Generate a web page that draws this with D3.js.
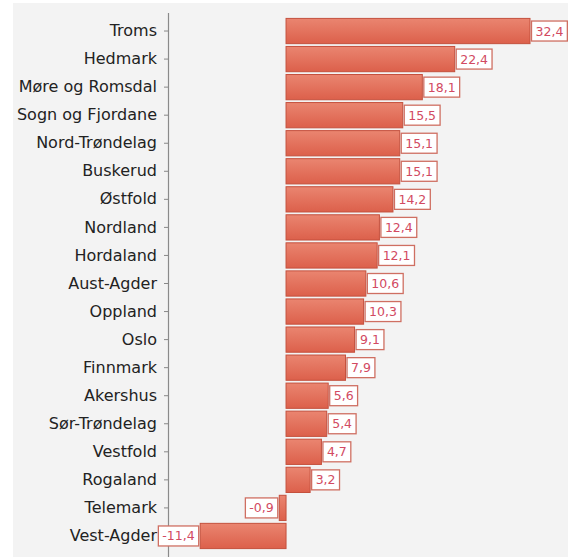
<!DOCTYPE html>
<html><head><meta charset="utf-8">
<script src="https://cdn.jsdelivr.net/npm/d3@7"></script>
<style>body{margin:0;background:#fff;}svg{display:block;}</style>
</head><body>
<script>
const categories = ["Troms","Hedmark","Møre og Romsdal","Sogn og Fjordane","Nord-Trøndelag","Buskerud","Østfold","Nordland","Hordaland","Aust-Agder","Oppland","Oslo","Finnmark","Akershus","Sør-Trøndelag","Vestfold","Rogaland","Telemark","Vest-Agder"];
const values = [32.4,22.4,18.1,15.5,15.1,15.1,14.2,12.4,12.1,10.6,10.3,9.1,7.9,5.6,5.4,4.7,3.2,-0.9,-11.4];

const W = 568, H = 557;
const svg = d3.select("body").append("svg").attr("width", W).attr("height", H);

const defs = svg.append("defs");
const grad = defs.append("linearGradient").attr("id","barGrad").attr("x1",0).attr("y1",0).attr("x2",0).attr("y2",1);
grad.append("stop").attr("offset","0%").attr("stop-color","#ea8570");
grad.append("stop").attr("offset","100%").attr("stop-color","#dc604b");

svg.append("rect").attr("x",13).attr("y",3).attr("width",W-13).attr("height",H-3).attr("fill","#f3f3f3");

const x = d3.scaleLinear().domain([-11.4, 32.4]).range([200.2, 530]);
const y = d3.scaleBand().domain(categories).range([17, 550]).paddingInner(0.1).paddingOuter(0.05);

// axis
const axisX = 168;
const yAxis = d3.axisLeft(y).tickSize(4).tickPadding(7);
const ag = svg.append("g").attr("transform", `translate(${axisX},0)`).call(yAxis);
ag.select(".domain").remove();
ag.selectAll(".tick line").attr("stroke","#888");
ag.selectAll(".tick text").attr("fill","#222").style("font-family","'DejaVu Sans', sans-serif").style("font-size","16px");
svg.append("line").attr("x1",axisX+0.5).attr("x2",axisX+0.5).attr("y1",13).attr("y2",H).attr("stroke","#8a8a8a").attr("stroke-width",1.2);

const g = svg.append("g");
const rows = categories.map((c,i)=>({c, v: values[i]}));
g.selectAll("rect.bar").data(rows).enter().append("rect")
  .attr("class","bar")
  .attr("x", d => x(Math.min(0,d.v)))
  .attr("y", d => y(d.c))
  .attr("width", d => Math.abs(x(d.v)-x(0)))
  .attr("height", y.bandwidth())
  .attr("fill","url(#barGrad)")
  .attr("stroke","#c4503d").attr("stroke-width",1);

const fmt = v => String(v.toFixed(1)).replace(".", ",");
const lab = g.selectAll("g.lab").data(rows).enter().append("g").attr("class","lab");
lab.each(function(d){
  const sel = d3.select(this);
  const t = sel.append("text").text(fmt(d.v))
    .style("font-family","'DejaVu Sans', sans-serif").style("font-size","12.5px")
    .attr("fill","#d24a62");
  const tw = t.node().getComputedTextLength();
  const bw = tw + 8, bh = 20;
  const cy = y(d.c) + y.bandwidth()/2;
  const bx = d.v >= 0 ? x(d.v) + 1.5 : x(d.v) - bw - 1.5;
  sel.insert("rect","text").attr("x",bx).attr("y",cy-bh/2).attr("width",bw).attr("height",bh)
    .attr("fill","#fff").attr("stroke","#cf6f62").attr("stroke-width",1.3);
  t.attr("x", bx+4).attr("y", cy+4.5);
});
</script>
</body></html>
